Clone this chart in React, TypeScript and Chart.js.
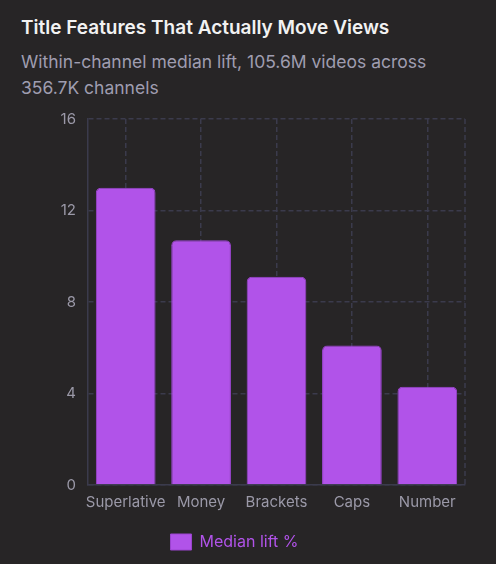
import React, { useEffect, useRef } from "react";
import { Chart, registerables } from "chart.js";

Chart.register(...registerables);

const categories = ["Superlative", "Money", "Brackets", "Caps", "Number"];
const medianLift = [13.0, 10.7, 9.1, 6.1, 4.3];
const seriesLabel = "Median lift %";
const titleText = "Title Features That Actually Move Views";
const subtitleText = "Within-channel median lift, 105.6M videos across 356.7K channels";

const BG = "#272526";
const BAR = "#b153e9";
const GRID = "#3b3b4c";
const TICK = "#9b99a8";
const FONT = "Inter, 'Noto Sans', sans-serif";
const DASH = [5, 3];

const rightEdge = {
  id: "rightEdge",
  beforeDatasetsDraw(chart: any) {
    const { ctx, chartArea } = chart;
    ctx.save();
    ctx.strokeStyle = GRID;
    ctx.lineWidth = 1.5;
    ctx.setLineDash(DASH);
    ctx.beginPath();
    ctx.moveTo(chartArea.right, chartArea.top);
    ctx.lineTo(chartArea.right, chartArea.bottom);
    ctx.stroke();
    ctx.restore();
  },
};

export default function App() {
  const ref = useRef<HTMLCanvasElement | null>(null);
  useEffect(() => {
    document.body.style.margin = "0";
    document.body.style.background = BG;
    const chart = new Chart(ref.current!, {
      type: "bar",
      data: {
        labels: categories,
        datasets: [
          {
            label: seriesLabel,
            data: medianLift,
            backgroundColor: BAR,
            borderColor: "#9c45d0",
            borderWidth: 1,
            borderRadius: 5,
            borderSkipped: "bottom",
            barPercentage: 0.9,
            categoryPercentage: 0.88,
          },
        ],
      },
      options: {
        animation: false,
        responsive: false,
        maintainAspectRatio: false,
        layout: { padding: { left: 4, right: 5, top: 0, bottom: 4 } },
        plugins: {
          title: { display: false },
          tooltip: { enabled: false },
          legend: {
            position: "bottom",
            labels: {
              color: BAR,
              font: { family: FONT, size: 16 },
              boxWidth: 21,
              boxHeight: 16,
              padding: 10,
            },
          },
        },
        scales: {
          x: {
            grid: {
              color: GRID,
              lineWidth: 1.5,
              offset: false,
              drawTicks: false,
            },
            border: { display: true, color: GRID, dash: DASH, width: 1.5 },
            ticks: {
              color: TICK,
              font: { family: FONT, size: 15 },
              padding: 8,
              maxRotation: 0,
              minRotation: 0,
              autoSkip: false,
            },
            afterFit: (s: any) => {
              s.height += 5;
            },
          },
          y: {
            min: 0,
            max: 16,
            ticks: { stepSize: 4, color: TICK, font: { family: FONT, size: 15 }, padding: 12 },
            grid: { color: GRID, lineWidth: 1.5, drawTicks: false },
            border: { display: true, color: GRID, dash: DASH, width: 1.5 },
            afterFit: (s: any) => {
              s.width = 84;
            },
          },
        },
      },
      plugins: [rightEdge],
    });
    return () => chart.destroy();
  }, []);

  return (
    <div style={{ width: 496, height: 564, background: BG, position: "relative", overflow: "hidden", fontFamily: FONT }}>
      <div style={{ position: "absolute", left: 21, top: 16, width: 440 }}>
        <div style={{ color: "#f2f2f2", fontSize: 19, fontWeight: 600, lineHeight: "24px" }}>
          {titleText}
        </div>
        <div style={{ color: "#9f9db0", fontSize: 17.5, lineHeight: "26px", marginTop: 9, width: 420 }}>
          {subtitleText}
        </div>
      </div>
      <div style={{ position: "absolute", left: 0, top: 98, width: 470, height: 466 }}>
        <canvas ref={ref} width={470} height={466} style={{ width: 470, height: 466 }} />
      </div>
    </div>
  );
}
